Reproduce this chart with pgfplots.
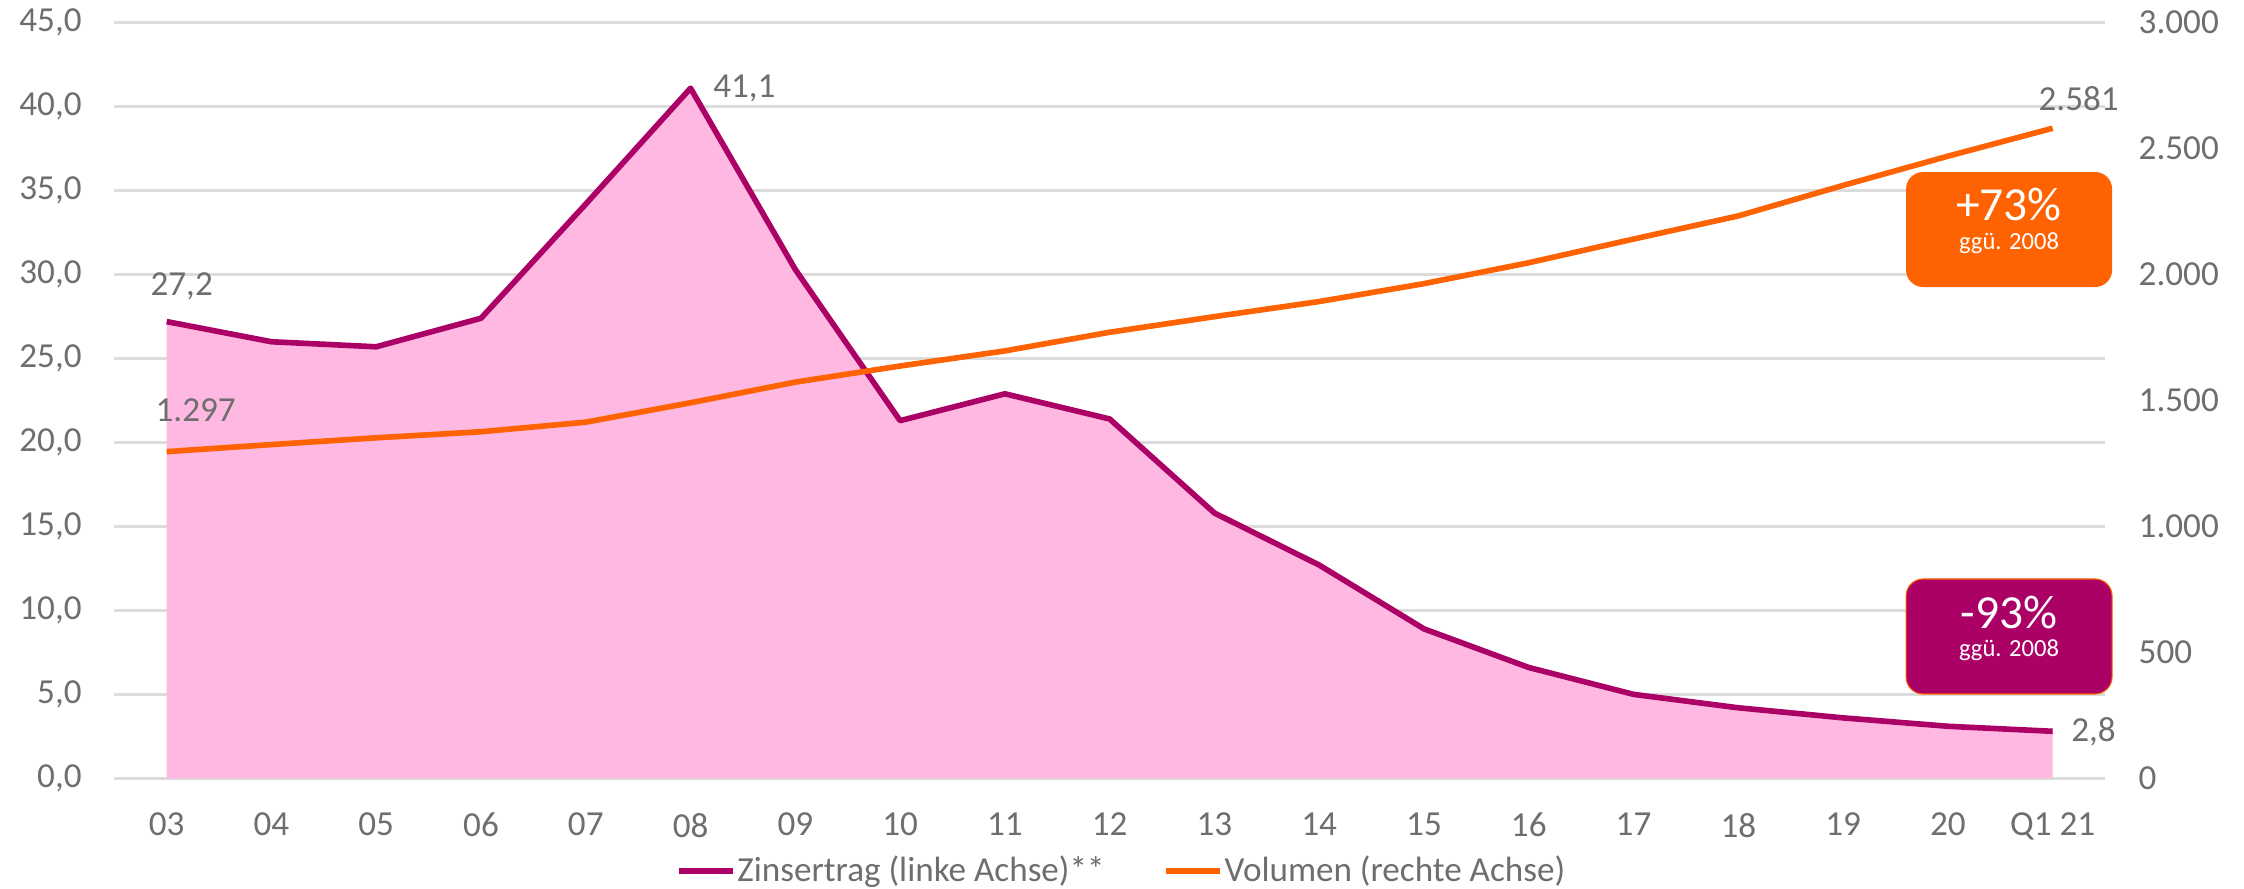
\documentclass[border=0pt]{standalone}
\usepackage{pgfplots}
\pgfplotsset{compat=1.18}
\usepackage{pgfplotstable}
\usepackage{fontspec}
\setmainfont{Carlito}
\definecolor{ingmag}{HTML}{AB0066}
\definecolor{ingpink}{HTML}{FFB8E1}
\definecolor{ingorange}{HTML}{FF6200}
\definecolor{txtgray}{HTML}{6E6E6E}
\definecolor{gridgray}{HTML}{DCDCDC}

\pgfplotstableread{
idx zins vol
0 27.2 1297
1 26.0 1325
2 25.7 1352
3 27.4 1376
4 34.2 1414
5 41.1 1491
6 30.3 1573
7 21.3 1637
8 22.9 1697
9 21.4 1771
10 15.8 1833
11 12.7 1893
12 8.9 1964
13 6.6 2047
14 5.0 2141
15 4.2 2233
16 3.6 2354
17 3.1 2470
18 2.8 2581
}\datatable

\begin{document}
\begin{tikzpicture}[font=\fontsize{10}{12}\selectfont,
  lbl/.style={text=txtgray, inner sep=0pt, font=\fontsize{10}{12}\selectfont}]
\pgfplotsset{
  base/.style={
    scale only axis, width=199.07mm, height=75.56mm,
    at={(0,0)}, anchor=south west,
    xmin=-0.5, xmax=18.5,
    clip=false,
    axis line style={draw=none},
    major tick length=0pt,
    tick label style={font=\fontsize{10}{12}\selectfont, text=txtgray},
    /pgf/number format/assume math mode=true,
  }
}
\begin{axis}[base,
  ymin=0, ymax=45, ytick={0,5,...,45},
  ymajorgrids, grid style={gridgray, line width=0.7pt},
  xtick={0,...,18},
  xticklabels={03,04,05,06,07,08,09,10,11,12,13,14,15,16,17,18,19,20,Q1 21},
  xticklabel style={anchor=north, inner sep=0pt, yshift=-3.4mm},
  yticklabel style={anchor=east, inner sep=0pt, xshift=-3.2mm,
    /pgf/number format/fixed, /pgf/number format/fixed zerofill,
    /pgf/number format/precision=1, /pgf/number format/use comma},
  legend style={at={(0.506,-0.1225)}, anchor=center, draw=none, fill=none,
    legend columns=2, font=\fontsize{10}{12}\selectfont, text=txtgray,
    inner sep=0pt, nodes={inner sep=0.6pt},
    /tikz/every even column/.append style={column sep=5.6mm}},
  legend image code/.code={\draw[#1] (0mm,0mm) -- (5.4mm,0mm);},
]
\addplot[fill=ingpink, draw=none, forget plot] table[x=idx, y=zins]{\datatable} \closedcycle;
\addplot[ingmag, line width=1.6pt, line join=round] table[x=idx, y=zins]{\datatable};
\addlegendentry{Zinsertrag (linke Achse)**}
\addlegendimage{ingorange, line width=1.6pt}
\addlegendentry{Volumen (rechte Achse)}
\node[lbl, anchor=center, xshift=1.5mm, yshift=3.5mm] at (axis cs:0,27.2) {27,2};
\node[lbl, anchor=west, xshift=2.2mm] at (axis cs:5,41.1) {41,1};
\node[lbl, anchor=west, xshift=1.8mm] at (axis cs:18,2.8) {2,8};
\end{axis}
\begin{axis}[base,
  ymin=0, ymax=3000, ytick={0,500,...,3000},
  hide x axis,
  axis y line*=right,
  yticklabel style={anchor=west, inner sep=0pt, xshift=3.3mm,
    /pgf/number format/fixed, /pgf/number format/precision=0,
    /pgf/number format/1000 sep={.}},
]
\addplot[ingorange, line width=1.6pt, line join=round] table[x=idx, y=vol]{\datatable};
\node[lbl, anchor=center, xshift=2.9mm, yshift=4.1mm] at (axis cs:0,1297) {1.297};
\node[lbl, anchor=center, xshift=2.6mm, yshift=3.0mm] at (axis cs:18,2581) {2.581};
% boxes
\node[fill=ingorange, rounded corners=1.7mm, minimum width=20.6mm, minimum height=11.5mm, inner sep=0pt] at (rel axis cs:0.9518,0.7263) {};
\node[text=white, inner sep=0pt, anchor=base, font=\fontsize{13.5}{14}\selectfont] at ([yshift=0.95mm]rel axis cs:0.9518,0.7263) {+73\%};
\node[text=white, inner sep=0pt, anchor=base, font=\fontsize{7}{8}\selectfont] at ([yshift=-1.95mm]rel axis cs:0.9518,0.7263) {ggü. 2008};
\node[fill=ingmag, draw=ingorange, line width=0.3pt, rounded corners=1.7mm, minimum width=20.6mm, minimum height=11.5mm, inner sep=0pt] at (rel axis cs:0.9518,0.1877) {};
\node[text=white, inner sep=0pt, anchor=base, font=\fontsize{13.5}{14}\selectfont] at ([yshift=0.75mm]rel axis cs:0.9518,0.1877) {-93\%};
\node[text=white, inner sep=0pt, anchor=base, font=\fontsize{7}{8}\selectfont] at ([yshift=-2.05mm]rel axis cs:0.9518,0.1877) {ggü. 2008};
\end{axis}
\path (-11.43mm,-10.97mm) rectangle (212.97mm,77.83mm);
\end{tikzpicture}
\end{document}
